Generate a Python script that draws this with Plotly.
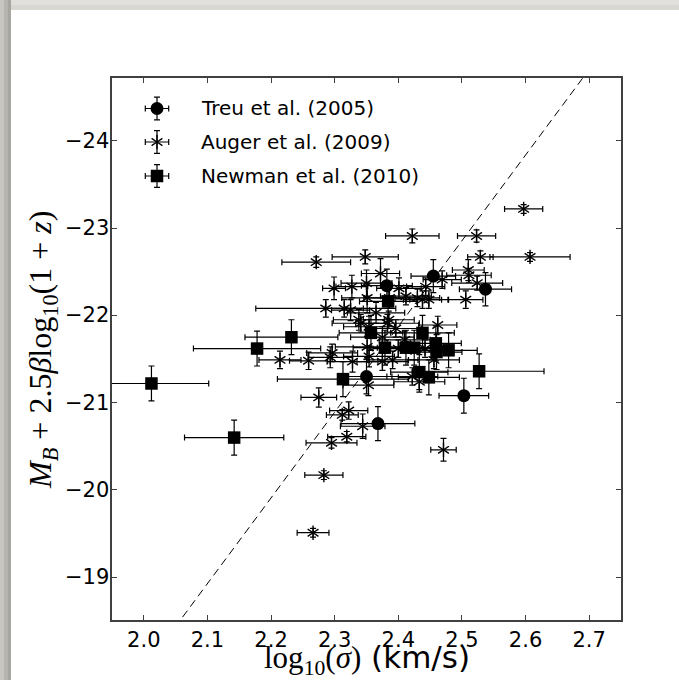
import plotly.graph_objects as go

# ---------------- data ----------------
treu_x = [2.455, 2.537, 2.382, 2.350, 2.368, 2.503]
treu_y = [-22.45, -22.30, -22.34, -21.30, -20.76, -21.08]
treu_xerr = [0.035, 0.041, 0.040, 0.040, 0.058, 0.039]
treu_yerr = [0.19, 0.19, 0.19, 0.20, 0.195, 0.20]

auger_x = [2.597, 2.523, 2.422, 2.607, 2.529, 2.348, 2.271, 2.510, 2.511, 2.524,
           2.469, 2.372, 2.350, 2.327, 2.299, 2.401, 2.443, 2.412, 2.430, 2.351,
           2.438, 2.448, 2.506, 2.286, 2.315, 2.325, 2.338, 2.385, 2.341, 2.354,
           2.383, 2.396, 2.462, 2.351, 2.296, 2.328, 2.354, 2.375, 2.391, 2.214,
           2.259, 2.293, 2.456, 2.422, 2.433, 2.353, 2.275, 2.322, 2.312, 2.344,
           2.319, 2.295, 2.283, 2.266, 2.471, 2.375, 2.410, 2.442, 2.365, 2.400,
           2.386]
auger_y = [-23.22, -22.91, -22.91, -22.67, -22.67, -22.67, -22.61, -22.52, -22.46, -22.37,
           -22.41, -22.48, -22.37, -22.33, -22.31, -22.31, -22.33, -22.22, -22.20, -22.20,
           -22.18, -22.18, -22.18, -22.08, -22.08, -22.06, -21.95, -21.95, -21.91, -21.87,
           -21.91, -21.85, -21.89, -21.64, -21.57, -21.47, -21.53, -21.47, -21.49, -21.49,
           -21.48, -21.52, -21.49, -21.30, -21.24, -21.20, -21.06, -20.91, -20.86, -20.73,
           -20.61, -20.54, -20.17, -19.51, -20.46, -21.75, -21.72, -21.62, -22.03, -21.62,
           -22.20]
auger_xerr = [0.030, 0.030, 0.042, 0.063, 0.020, 0.052, 0.054, 0.025, 0.035, 0.040,
              0.030, 0.030, 0.040, 0.025, 0.018, 0.035, 0.030, 0.040, 0.035, 0.040,
              0.030, 0.030, 0.027, 0.110, 0.030, 0.030, 0.040, 0.040, 0.045, 0.040,
              0.050, 0.040, 0.030, 0.050, 0.040, 0.040, 0.040, 0.040, 0.040, 0.033,
              0.030, 0.035, 0.040, 0.040, 0.040, 0.040, 0.028, 0.030, 0.025, 0.035,
              0.030, 0.040, 0.030, 0.025, 0.020, 0.050, 0.040, 0.040, 0.045, 0.040,
              0.040]
auger_yerr = [0.05, 0.07, 0.08, 0.05, 0.07, 0.08, 0.06, 0.12, 0.08, 0.08,
              0.10, 0.17, 0.15, 0.13, 0.13, 0.12, 0.10, 0.10, 0.10, 0.17,
              0.10, 0.10, 0.10, 0.10, 0.10, 0.12, 0.12, 0.10, 0.10, 0.12,
              0.10, 0.10, 0.10, 0.12, 0.10, 0.12, 0.12, 0.10, 0.10, 0.10,
              0.10, 0.12, 0.10, 0.10, 0.12, 0.12, 0.11, 0.10, 0.06, 0.14,
              0.06, 0.06, 0.05, 0.05, 0.13, 0.12, 0.10, 0.10, 0.12, 0.10,
              0.12]

newman_x = [2.012, 2.142, 2.178, 2.232, 2.313, 2.357, 2.384, 2.379, 2.412, 2.425,
            2.438, 2.459, 2.460, 2.479, 2.527, 2.433, 2.448]
newman_y = [-21.22, -20.60, -21.62, -21.75, -21.27, -21.80, -22.16, -21.63, -21.63, -21.63,
            -21.80, -21.68, -21.58, -21.60, -21.36, -21.35, -21.29]
newman_xerr = [0.090, 0.078, 0.100, 0.073, 0.103, 0.050, 0.045, 0.050, 0.045, 0.045,
               0.050, 0.040, 0.040, 0.045, 0.102, 0.045, 0.048]
newman_yerr = [0.20, 0.20, 0.20, 0.20, 0.20, 0.20, 0.20, 0.20, 0.20, 0.20,
               0.20, 0.20, 0.20, 0.20, 0.20, 0.20, 0.20]

fit_x = [2.0, 2.75]
fit_y = [-17.945, -25.31]

labels = ["Treu et al. (2005)", "Auger et al. (2009)", "Newman et al. (2010)"]
x_ticks = [2.0, 2.1, 2.2, 2.3, 2.4, 2.5, 2.6, 2.7]
y_ticks = [-24, -23, -22, -21, -20, -19]

# ---------------- layout constants ----------------
W, H = 679, 680
ML, MR, MT, MB = 112, 58, 78, 60
PW, PH = W - ML - MR, H - MT - MB


def pxx(p):
    return (p - ML) / PW


def pxy(p):
    return (H - MB - p) / PH


err_kw = dict(color="black", thickness=1.2, width=3)
AST_SIZE = 9
ast_line = dict(color="black", width=1.4)

fig = go.Figure()

# dashed relation
fig.add_trace(go.Scatter(x=fit_x, y=fit_y, mode="lines",
                         line=dict(color="black", width=1, dash="8px,5px"),
                         showlegend=False, hoverinfo="skip"))

# Treu
fig.add_trace(go.Scatter(
    x=treu_x, y=treu_y, mode="markers", name=labels[0],
    marker=dict(symbol="circle", size=13, color="black"),
    error_x=dict(type="data", array=treu_xerr, **err_kw),
    error_y=dict(type="data", array=treu_yerr, **err_kw),
    showlegend=False))

# Auger (six-armed asterisk = y-up + y-down)
fig.add_trace(go.Scatter(
    x=auger_x, y=auger_y, mode="markers", name=labels[1],
    marker=dict(symbol="y-up", size=AST_SIZE, color="black", line=ast_line),
    error_x=dict(type="data", array=auger_xerr, **err_kw),
    error_y=dict(type="data", array=auger_yerr, **err_kw),
    showlegend=False))
fig.add_trace(go.Scatter(
    x=auger_x, y=auger_y, mode="markers",
    marker=dict(symbol="y-down", size=AST_SIZE, color="black", line=ast_line),
    showlegend=False, hoverinfo="skip"))

# Newman
fig.add_trace(go.Scatter(
    x=newman_x, y=newman_y, mode="markers", name=labels[2],
    marker=dict(symbol="square", size=12.5, color="black"),
    error_x=dict(type="data", array=newman_xerr, **err_kw),
    error_y=dict(type="data", array=newman_yerr, **err_kw),
    showlegend=False))

# ---------------- custom legend (overlay axes) ----------------
leg_x = pxx(157)
leg_ys = [pxy(108.5), pxy(142), pxy(176)]
leg_ex = 11.7 / PW
leg_ey = 11.3 / PH
leg_syms = [("circle", 13), ("y-up", AST_SIZE), ("square", 12.5)]
for i, (sym, sz) in enumerate(leg_syms):
    mk = dict(symbol=sym, size=sz, color="black")
    if sym == "y-up":
        mk["line"] = ast_line
    fig.add_trace(go.Scatter(
        x=[leg_x], y=[leg_ys[i]], mode="markers", xaxis="x2", yaxis="y2",
        marker=mk,
        error_x=dict(type="data", array=[leg_ex], **err_kw),
        error_y=dict(type="data", array=[leg_ey], **err_kw),
        showlegend=False, hoverinfo="skip"))
    if sym == "y-up":
        fig.add_trace(go.Scatter(
            x=[leg_x], y=[leg_ys[i]], mode="markers", xaxis="x2", yaxis="y2",
            marker=dict(symbol="y-down", size=AST_SIZE, color="black", line=ast_line),
            showlegend=False, hoverinfo="skip"))

annotations = []
for i, lab in enumerate(labels):
    annotations.append(dict(
        x=pxx(199), y=leg_ys[i], xref="paper", yref="paper",
        text=lab, showarrow=False, xanchor="left", yanchor="middle",
        font=dict(family="DejaVu Sans", size=20, color="black")))

# y tick labels (placed tight to the spine as in the reference)
for v in y_ticks:
    annotations.append(dict(
        x=pxx(111), y=v, xref="paper", yref="y", showarrow=False,
        xanchor="right", yanchor="middle", text=f"\u2212{abs(v)}",
        font=dict(family="DejaVu Sans", size=21, color="black")))

# axis titles
annotations.append(dict(
    x=0.5, y=pxy(659), xref="paper", yref="paper", showarrow=False,
    xanchor="center", yanchor="middle",
    text="<span style='font-family:Liberation Serif'>log<sub>10</sub>(<i>σ</i>)</span> (km/s)",
    font=dict(family="DejaVu Sans", size=31, color="black")))
annotations.append(dict(
    x=pxx(42), y=pxy(350), xref="paper", yref="paper", showarrow=False,
    xanchor="center", yanchor="middle", textangle=-90,
    text="<i>M</i><sub><i>B</i></sub> + 2.5<i>β</i>log<sub>10</sub>(1 + <i>z</i>)",
    font=dict(family="Liberation Serif", size=32, color="black")))

# ---------------- shadow frame ----------------
shapes = []
frame = [
    (0, 0, W, 10, "#e2e0dc"),
    (0, 5, W, 10, "#d9d7d2"),
    (0, 0, 4, H, "#c8c6c1"),
    (4, 0, 8, H, "#b6b4af"),
    (8, 0, 11, H, "#a8a6a1"),
]
for x0, y0, x1, y1, c in frame:
    shapes.append(dict(type="rect", xref="paper", yref="paper",
                       x0=pxx(x0), x1=pxx(x1), y0=pxy(y1), y1=pxy(y0),
                       fillcolor=c, line=dict(width=0), layer="below"))

axis_common = dict(
    showline=True, linecolor="#404040", linewidth=1.5, mirror="ticks",
    ticks="inside", ticklen=5, tickwidth=1, tickcolor="#404040",
    showgrid=False, zeroline=False,
    tickfont=dict(family="DejaVu Sans", size=21, color="black"),
)

fig.update_layout(
    width=W, height=H,
    margin=dict(l=ML, r=MR, t=MT, b=MB, autoexpand=False),
    paper_bgcolor="white", plot_bgcolor="white",
    xaxis=dict(range=[1.95, 2.75], tickvals=x_ticks,
               ticktext=[f"{v:.1f}" for v in x_ticks], **axis_common),
    yaxis=dict(range=[-18.51, -24.72], tickvals=y_ticks,
               showticklabels=False, **axis_common),
    xaxis2=dict(range=[0, 1], overlaying="x", anchor="y2", visible=False, fixedrange=True),
    yaxis2=dict(range=[0, 1], overlaying="y", anchor="x2", visible=False, fixedrange=True),
    annotations=annotations,
    shapes=shapes,
    showlegend=False,
)

fig.write_html("out.html", config={"displayModeBar": False},
               post_script="document.documentElement.style.overflow='hidden';"
                           "document.body.style.overflow='hidden';"
                           "document.body.style.margin='0';")
